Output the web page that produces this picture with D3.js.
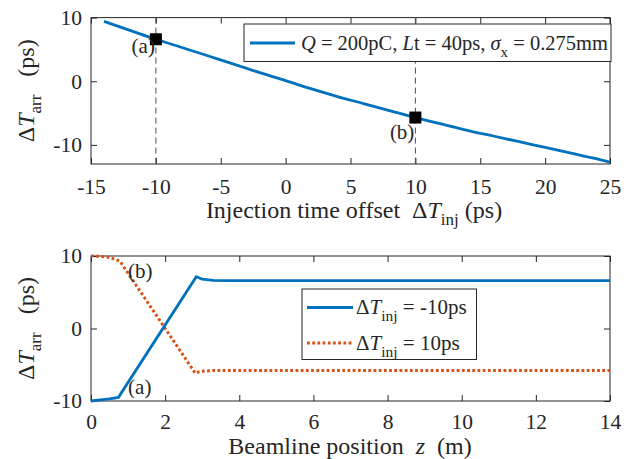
<!DOCTYPE html>
<html>
<head>
<meta charset="utf-8">
<script src="https://cdn.jsdelivr.net/npm/d3@7"></script>
<style>
body { margin: 0; background: #fff; }
svg text { font-family: "Liberation Serif", "Times New Roman", Times, "DejaVu Serif", serif !important; fill: #262626; white-space: pre; }
</style>
</head>
<body>
<div id="chart"></div>
<script>
var width = 634,
	height = 459;
var serif = "'Liberation Serif', 'Times New Roman', Times, 'DejaVu Serif', serif";

// top panel: arrival time vs injection offset
var injOffset = [-14, -12, -10, -8, -6, -4, -2, 0, 2, 4, 6, 8, 10, 12, 14, 16, 18, 20, 22, 24, 25];
var arrTime = [9.4, 8.0, 6.6, 5.3, 4.0, 2.7, 1.35, 0.1, -1.2, -2.4, -3.5, -4.6, -5.7, -6.7, -7.7, -8.6, -9.5, -10.4, -11.3, -12.2, -12.7];
var markX = [-10, 10];
var markY = [6.6, -5.7];
var markLabels = ["(a)", "(b)"];
var topXTicks = [-15, -10, -5, 0, 5, 10, 15, 20, 25];
var topYTicks = [-10, 0, 10];

// bottom panel: arrival time along beamline
var zBlue = [0, 0.25, 0.5, 0.74, 2.84, 3.0, 3.3, 3.6, 14];
var tBlue = [-10, -9.85, -9.7, -9.5, 7.15, 6.8, 6.65, 6.6, 6.6];
var zRed = [0, 0.25, 0.5, 0.78, 2.81, 2.95, 3.3, 14];
var tRed = [10, 9.95, 9.8, 9.3, -6.15, -5.9, -5.8, -5.8];
var botXTicks = [0, 2, 4, 6, 8, 10, 12, 14];
var botYTicks = [-10, 0, 10];

var blue = "#0072BD",
	red = "#D95319",
	axisColor = "#262626";

var svg = d3.select("#chart")
	.append("svg")
	.attr("width", width)
	.attr("height", height)
	.attr("font-family", serif);

// Scales
var x1 = d3.scaleLinear().domain([-15, 25]).range([91, 610]);
var y1 = d3.scaleLinear().domain([-13, 10]).range([164, 17.6]);
var x2 = d3.scaleLinear().domain([0, 14]).range([91, 610]);
var y2 = d3.scaleLinear().domain([-10, 10]).range([401, 256]);

function drawAxes(x, y, xt, yt, pad) {
	var g = svg.append("g");
	var r = { l: x.range()[0], r: x.range()[1], t: y.range()[1], b: y.range()[0] };
	var fmt = function (d) { return String(d); };
	g.append("g").attr("transform", "translate(0," + r.b + ")")
		.call(d3.axisBottom(x).tickValues(xt).tickSize(-6).tickPadding(pad).tickFormat(fmt));
	g.append("g").attr("transform", "translate(0," + r.t + ")")
		.call(d3.axisTop(x).tickValues(xt).tickSize(-6).tickFormat(""));
	g.append("g").attr("transform", "translate(" + r.l + ",0)")
		.call(d3.axisLeft(y).tickValues(yt).tickSize(-6).tickPadding(9).tickFormat(fmt));
	g.append("g").attr("transform", "translate(" + r.r + ",0)")
		.call(d3.axisRight(y).tickValues(yt).tickSize(-6).tickFormat(""));
	g.selectAll("g").attr("font-family", serif);
	g.selectAll(".domain").remove();
	g.selectAll(".tick line").attr("stroke", axisColor);
	g.selectAll(".tick text").attr("fill", axisColor).style("font-size", "21.5px");
	g.append("rect")
		.attr("x", r.l).attr("y", r.t)
		.attr("width", r.r - r.l).attr("height", r.b - r.t)
		.attr("fill", "none").attr("stroke", axisColor).attr("stroke-width", 1);
	return g;
}

function yLabel(cy) {
	var t = svg.append("text")
		.attr("transform", "translate(34," + cy + ") rotate(-90)")
		.attr("text-anchor", "middle")
		.style("font-size", "24px");
	t.append("tspan").text("\u0394");
	t.append("tspan").style("font-style", "italic").text("T");
	t.append("tspan").attr("dy", 7).style("font-size", "17px").text("arr");
	t.append("tspan").attr("dy", -7).text("   (ps)");
}

// ---------- Top panel ----------
drawAxes(x1, y1, topXTicks, topYTicks, 14.5);

// dashed guides
svg.append("g").selectAll("line")
	.data(markX).enter().append("line")
	.attr("x1", function (d) { return x1(d); })
	.attr("x2", function (d) { return x1(d); })
	.attr("y1", y1(10)).attr("y2", y1(-13))
	.attr("stroke", "#4d4d4d").attr("stroke-width", 1)
	.attr("stroke-dasharray", "6,4");

var line1 = d3.line().x(function (d, i) { return x1(injOffset[i]); })
	.y(function (d) { return y1(d); })
	.curve(d3.curveMonotoneX);
svg.append("path").datum(arrTime)
	.attr("d", line1)
	.attr("fill", "none").attr("stroke", blue).attr("stroke-width", 2.8);

svg.append("g").selectAll("rect")
	.data(markX).enter().append("rect")
	.attr("x", function (d) { return x1(d) - 6; })
	.attr("y", function (d, i) { return y1(markY[i]) - 6; })
	.attr("width", 12).attr("height", 12)
	.attr("fill", "#000");

svg.append("g").selectAll("text")
	.data(markLabels).enter().append("text")
	.attr("x", function (d, i) { return x1(markX[i]) - 1; })
	.attr("y", function (d, i) { return y1(markY[i]) + (i === 0 ? 14 : 21); })
	.attr("text-anchor", "end")
	.style("font-size", "21px")
	.attr("fill", "#000")
	.text(function (d) { return d; });

// legend (top)
var lg1 = svg.append("g");
lg1.append("rect").attr("x", 244).attr("y", 24).attr("width", 367).attr("height", 37.5)
	.attr("fill", "#fff").attr("stroke", axisColor).attr("stroke-width", 1);
lg1.append("line").attr("x1", 250).attr("x2", 295).attr("y1", 43).attr("y2", 43)
	.attr("stroke", blue).attr("stroke-width", 2.8);
var lt = lg1.append("text").attr("x", 301).attr("y", 49.5).style("font-size", "20.5px").attr("fill", "#000");
lt.append("tspan").style("font-style", "italic").text("Q");
lt.append("tspan").text(" = 200pC, ");
lt.append("tspan").style("font-style", "italic").text("L");
lt.append("tspan").text("t = 40ps, ");
lt.append("tspan").style("font-style", "italic").text("\u03c3");
lt.append("tspan").attr("dy", 7).style("font-size", "15px").text("x");
lt.append("tspan").attr("dy", -7).text(" = 0.275mm");

// x label (top)
var xl1 = svg.append("text").attr("x", 354).attr("y", 217.5)
	.attr("text-anchor", "middle").style("font-size", "24px");
xl1.append("tspan").text("Injection time offset  \u0394");
xl1.append("tspan").style("font-style", "italic").text("T");
xl1.append("tspan").attr("dy", 7).style("font-size", "17px").text("inj");
xl1.append("tspan").attr("dy", -7).text(" (ps)");

yLabel(y1(-1.5));

// ---------- Bottom panel ----------
drawAxes(x2, y2, botXTicks, botYTicks, 13);

var lineB = d3.line().x(function (d, i) { return x2(zBlue[i]); }).y(function (d) { return y2(d); });
var lineR = d3.line().x(function (d, i) { return x2(zRed[i]); }).y(function (d) { return y2(d); });

svg.append("path").datum(tRed)
	.attr("d", lineR)
	.attr("fill", "none").attr("stroke", red).attr("stroke-width", 3)
	.attr("stroke-dasharray", "2.8,2.4");
svg.append("path").datum(tBlue)
	.attr("d", lineB)
	.attr("fill", "none").attr("stroke", blue).attr("stroke-width", 2.8);

svg.append("text").attr("x", x2(1.0)).attr("y", y2(6.9))
	.style("font-size", "21px").attr("fill", "#000").text("(b)");
svg.append("text").attr("x", x2(1.0)).attr("y", y2(-9.1))
	.style("font-size", "21px").attr("fill", "#000").text("(a)");

// legend (bottom)
var lg2 = svg.append("g");
lg2.append("rect").attr("x", 302).attr("y", 289).attr("width", 174.5).attr("height", 70.5)
	.attr("fill", "#fff").attr("stroke", axisColor).attr("stroke-width", 1);
var entries = [
	{ color: blue, dash: null, label: " = -10ps", y: 307.5 },
	{ color: red, dash: "2.8,2.4", label: " = 10ps", y: 343 }
];
entries.forEach(function (e) {
	lg2.append("line").attr("x1", 307).attr("x2", 353).attr("y1", e.y).attr("y2", e.y)
		.attr("stroke", e.color).attr("stroke-width", e.dash ? 3 : 2.8)
		.attr("stroke-dasharray", e.dash);
	var t = lg2.append("text").attr("x", 356).attr("y", e.y + 6.5)
		.style("font-size", "21px").attr("fill", "#000");
	t.append("tspan").text("\u0394");
	t.append("tspan").style("font-style", "italic").text("T");
	t.append("tspan").attr("dy", 7).style("font-size", "15.5px").text("inj");
	t.append("tspan").attr("dy", -7).text(e.label);
});

// x label (bottom)
var xl2 = svg.append("text").attr("x", 350).attr("y", 454)
	.attr("text-anchor", "middle").style("font-size", "24px");
xl2.append("tspan").text("Beamline position  ");
xl2.append("tspan").style("font-style", "italic").text("z");
xl2.append("tspan").text("  (m)");

yLabel(y2(0));
</script>
</body>
</html>
